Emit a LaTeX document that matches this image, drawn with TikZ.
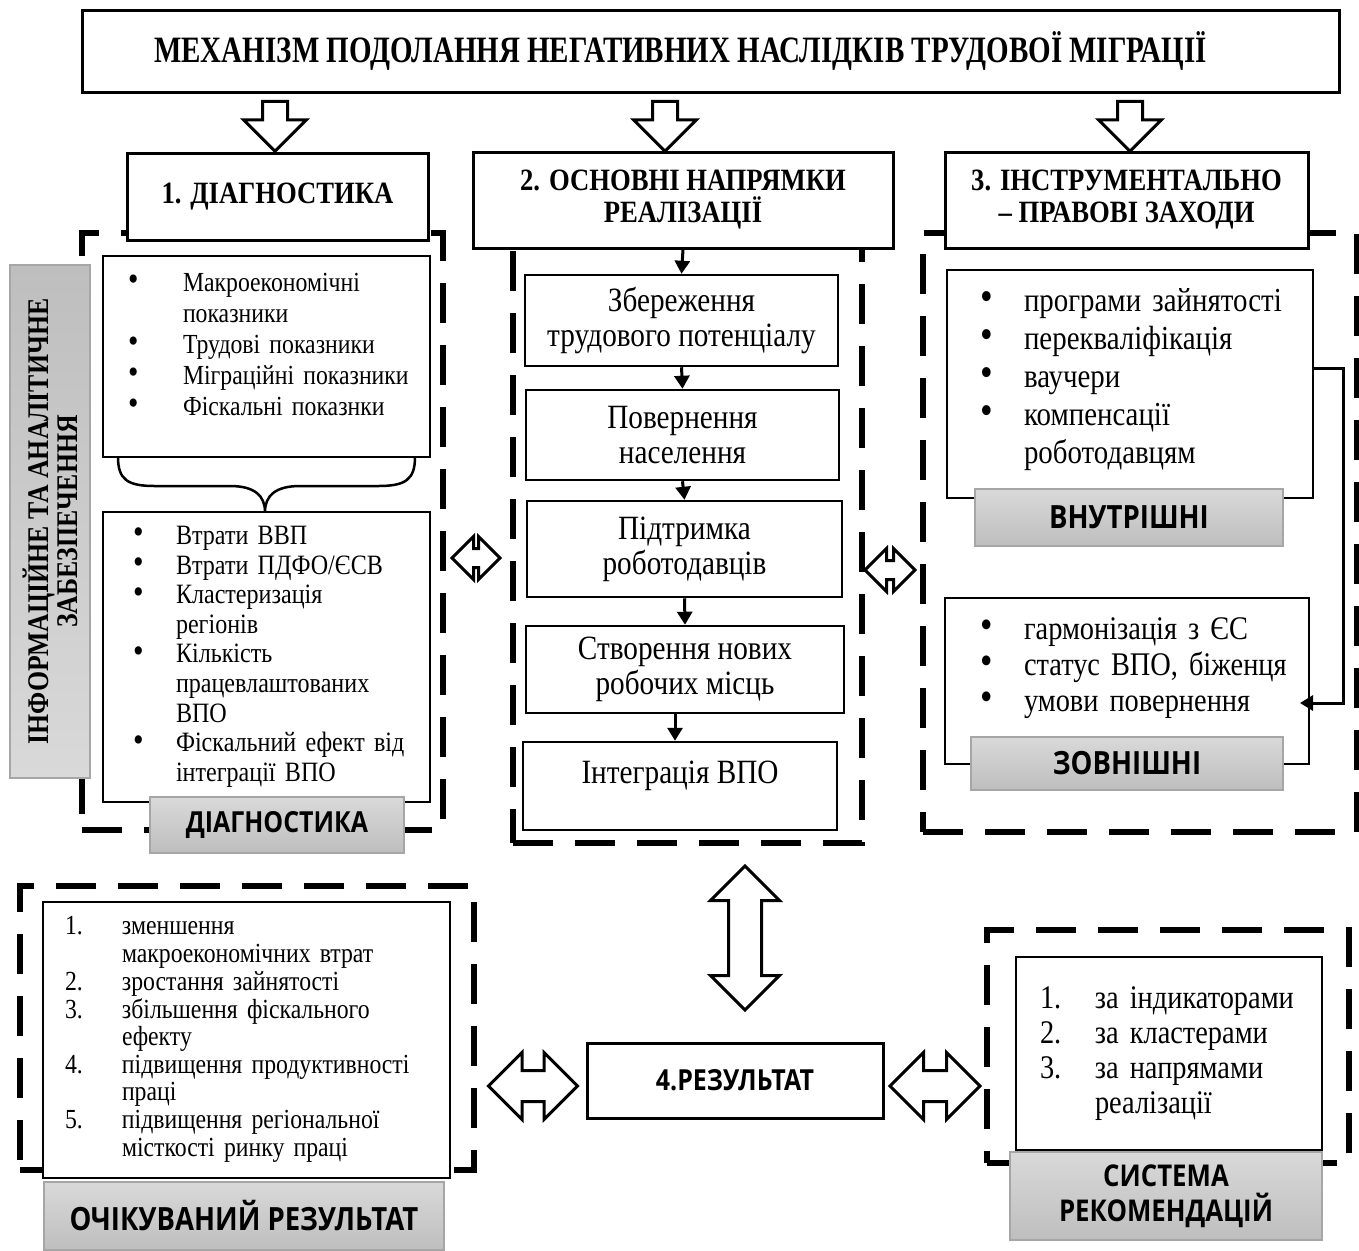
\documentclass[tikz,border=0pt]{standalone}
\usepackage{fontspec}
\setmainfont{Liberation Serif}[FakeStretch=0.86]
\newfontfamily\titlefont{Liberation Serif}[FakeStretch=0.78]
\newfontfamily\labelfont{Open Sans}[FakeStretch=0.86]
\usetikzlibrary{arrows.meta,shapes.arrows}

\newlength{\du}
\setlength{\du}{0.5pt}
\newcommand{\itembullet}{\raisebox{0.3pt}{\scalebox{1.25}{\textbullet}}}

\definecolor{labeltop}{RGB}{217,217,217}
\definecolor{labelbottom}{RGB}{190,190,190}
\definecolor{labelline}{RGB}{166,166,166}

\tikzset{
  headbox/.style={draw, line width=3\du, fill=white, align=center, inner sep=0pt,
    font=\bfseries\fontsize{15.5}{16}\selectfont},
  listbox/.style={draw, line width=2.5\du, fill=white, inner sep=0pt, align=left},
  stagebox/.style={draw, line width=2.5\du, fill=white, align=center, inner sep=0pt,
    font=\fontsize{17}{17.5}\selectfont},
  greylabel/.style={draw=labelline, line width=1.5\du, top color=labeltop,
    bottom color=labelbottom, align=center, inner sep=0pt,
    font=\labelfont\bfseries\fontsize{14.5}{17.5}\selectfont},
  dashframe/.style={draw, line width=6\du, dash pattern=on 40\du off 22\du,
    inner sep=0pt},
  flow/.style={line width=3\du, -{Triangle[length=6.5pt,width=7.5pt]}},
  downarrow/.style={single arrow, draw, fill=white, line width=3\du,
    shape border rotate=270, inner sep=11\du, single arrow head extend=19\du,
    minimum height=50\du},
  twoway/.style={double arrow, draw, fill=white, line width=3\du}
}

\begin{document}
\begin{tikzpicture}
\pgftransformxscale{1.000000}
\pgftransformyscale{-1.000000}
\useasboundingbox (0,0) rectangle (1359\du,1250\du);

% dashed frames
\node[dashframe, minimum width=361\du, minimum height=597\du] (diagframe) at (262.5\du,531.5\du) {};
\node[dashframe, minimum width=349\du, minimum height=598\du] (stageframe) at (687.5\du,544\du) {};
\node[dashframe, minimum width=434\du, minimum height=599\du] (toolframe) at (1140\du,532.5\du) {};
\node[dashframe, minimum width=454\du, minimum height=284\du] (resultframe) at (247\du,1028\du) {};
\node[dashframe, minimum width=362\du, minimum height=233\du] (recframe) at (1168\du,1046.5\du) {};

% top
\node[headbox, minimum width=1257\du, minimum height=82\du,
  font=\titlefont\bfseries\fontsize{18.6}{20}\selectfont] (title) at (710.5\du,51\du)
  {МЕХАНІЗМ ПОДОЛАННЯ НЕГАТИВНИХ НАСЛІДКІВ ТРУДОВОЇ МІГРАЦІЇ\hspace*{60\du}};
\node[downarrow] (downA) at (275\du,120\du) {};
\node[downarrow] (downB) at (665\du,120\du) {};
\node[downarrow] (downC) at (1130\du,120\du) {};

\node[headbox, minimum width=301\du, minimum height=87\du] (col1) at (277.5\du,196.5\du) {1. ДІАГНОСТИКА};
\node[headbox, minimum width=420\du, minimum height=96\du] (col2) at (683\du,200\du) {2. ОСНОВНІ НАПРЯМКИ\\РЕАЛІЗАЦІЇ};
\node[headbox, minimum width=363\du, minimum height=96\du] (col3) at (1126.5\du,200\du) {3. ІНСТРУМЕНТАЛЬНО\\– ПРАВОВІ ЗАХОДИ};

% 1. diagnostics
\node[greylabel, rotate=90, minimum width=513\du, minimum height=80\du,
  top color=labelbottom, bottom color=labeltop,
  font=\bfseries\fontsize{15}{14.5}\selectfont] (infolabel) at (50\du,521.5\du)
  {ІНФОРМАЦІЙНЕ ТА АНАЛІТИЧНЕ\\ЗАБЕЗПЕЧЕННЯ};

\node[listbox, minimum width=327\du, minimum height=201\du, text width=277\du,
  font=\fontsize{13.8}{15.5}\selectfont] (diagin) at (266.5\du,356.5\du) {%
  \begin{tabular}{@{}p{55\du}@{}l@{}}
  \itembullet & Макроекономічні\\
   & показники\\
  \itembullet & Трудові показники\\
  \itembullet & Міграційні показники\\
  \itembullet & Фіскальні показнки\\[19\du]
  \end{tabular}};
\node[listbox, minimum width=327\du, minimum height=290\du, text width=267\du,
  font=\fontsize{14}{14.8}\selectfont] (diagout) at (266.5\du,657\du) {%
  \begin{tabular}{@{}p{43\du}@{}l@{}}
  \itembullet & Втрати ВВП\\
  \itembullet & Втрати ПДФО/ЄСВ\\
  \itembullet & Кластеризація\\
   & регіонів\\
  \itembullet & Кількість\\
   & працевлаштованих\\
   & ВПО\\
  \itembullet & \makebox[231\du][s]{Фіскальний ефект від}\\
   & інтеграції ВПО
  \end{tabular}};
\coordinate (braceL) at (118\du,457\du);
\coordinate (braceM) at (265\du,512\du);
\coordinate (braceR) at (415\du,457\du);
\draw[line width=2.5\du] (braceL) .. controls (118\du,480\du) and (128\du,486\du) .. (155\du,486\du)
  -- (230\du,486\du) .. controls (255\du,486\du) and (265\du,496\du) .. (braceM)
  .. controls (265\du,496\du) and (275\du,486\du) .. (300\du,486\du)
  -- (378\du,486\du) .. controls (405\du,486\du) and (415\du,480\du) .. (braceR);
\node[greylabel, minimum width=254\du, minimum height=56\du] (diaglabel) at (277\du,825\du) {ДІАГНОСТИКА};

% 2. directions
\node[stagebox, minimum width=313\du, minimum height=91\du] (stage1) at (681.5\du,320.5\du) {Збереження\\трудового потенціалу};
\node[stagebox, minimum width=313\du, minimum height=90\du] (stage2) at (682.5\du,435\du) {Повернення\\населення};
\node[stagebox, minimum width=315\du, minimum height=96\du] (stage3) at (684.5\du,549\du) {Підтримка\\роботодавців};
\node[stagebox, minimum width=318\du, minimum height=87\du] (stage4) at (685\du,669.5\du) {Створення нових\\робочих місць};
\node[stagebox, minimum width=314\du, minimum height=88\du] (stage5) at (680\du,786\du)
  {\raisebox{10\du}[\height][\depth]{Інтеграція ВПО}};
\draw[flow] (col2.south) -- (stage1.north);
\draw[flow] (stage1.south) -- (stage2.north);
\draw[flow] (stage2.south) -- (stage3.north);
\draw[flow] (stage3.south) -- (stage4.north);
\draw[flow] ([xshift=-10\du]stage4.south) -- ([xshift=-10\du]stage4.south |- stage5.north);

\node[twoway, inner sep=8\du, double arrow head extend=12\du, minimum height=48\du] (linkL) at (476\du,558\du) {};
\node[twoway, inner sep=8\du, double arrow head extend=12\du, minimum height=50\du] (linkR) at (890\du,570\du) {};

% 3. instruments
\node[listbox, minimum width=366\du, minimum height=228\du, text width=300\du,
  font=\fontsize{16.8}{19}\selectfont] (toolin) at (1130\du,384\du) {%
  \begin{tabular}{@{}p{44\du}@{}l@{}}
  \itembullet & програми зайнятості\\
  \itembullet & перекваліфікація\\
  \itembullet & ваучери\\
  \itembullet & компенсації\\
   & роботодавцям\\[9\du]
  \end{tabular}};
\node[greylabel, minimum width=308\du, minimum height=57\du,
  font=\labelfont\bfseries\fontsize{16}{17.5}\selectfont] (inlabel) at (1129\du,517.5\du) {ВНУТРІШНІ};
\node[listbox, minimum width=364\du, minimum height=166\du, text width=294\du,
  font=\fontsize{16.5}{18}\selectfont] (toolout) at (1127\du,681\du) {%
  \begin{tabular}{@{}p{44\du}@{}l@{}}
  \itembullet & гармонізація з ЄС\\
  \itembullet & статус ВПО, біженця\\
  \itembullet & умови повернення\\[26\du]
  \end{tabular}};
\node[greylabel, minimum width=312\du, minimum height=53\du,
  font=\labelfont\bfseries\fontsize{16}{17.5}\selectfont] (outlabel) at (1127\du,763.5\du) {ЗОВНІШНІ};
\coordinate (elbowin) at (1313\du,368\du);
\coordinate (elbowout) at (1300\du,703\du);
\draw[flow] (elbowin) -- ++(30\du,0) |- (elbowout);

% 4. result
\node[twoway, shape border rotate=90, inner sep=15\du, double arrow head extend=18\du,
  minimum height=144\du] (linkV) at (745\du,938\du) {};
\node[headbox, minimum width=296\du, minimum height=75\du,
  font=\labelfont\bfseries\fontsize{14.5}{14}\selectfont] (result) at (735\du,1080.5\du) {4.РЕЗУЛЬТАТ};
\node[twoway, inner sep=14\du, double arrow head extend=18\du, minimum height=89\du] (linkRL) at (533\du,1086\du) {};
\node[twoway, inner sep=14\du, double arrow head extend=18\du, minimum height=90\du] (linkRR) at (935\du,1086\du) {};

\node[listbox, minimum width=407\du, minimum height=276\du, text width=363\du,
  font=\fontsize{13.8}{13.8}\selectfont] (reslist) at (246.5\du,1040\du) {%
  \begin{tabular}{@{}p{57\du}@{}l@{}}
  1. & зменшення\\
   & макроекономічних втрат\\
  2. & зростання зайнятості\\
  3. & збільшення фіскального\\
   & ефекту\\
  4. & підвищення продуктивності\\
   & праці\\
  5. & підвищення регіональної\\
   & місткості ринку праці
  \end{tabular}};
\node[greylabel, minimum width=400\du, minimum height=68\du,
  font=\labelfont\bfseries\fontsize{16}{17.5}\selectfont] (reslabel) at (244\du,1216\du) {ОЧІКУВАНИЙ РЕЗУЛЬТАТ};

\node[listbox, minimum width=306\du, minimum height=193\du, text width=258\du,
  font=\fontsize{16.5}{17.5}\selectfont] (reclist) at (1169\du,1053.5\du) {%
  \begin{tabular}{@{}p{55\du}@{}l@{}}
  1. & за індикаторами\\
  2. & за кластерами\\
  3. & за напрямами\\
   & реалізації
  \end{tabular}};
\node[greylabel, minimum width=312\du, minimum height=88\du,
  font=\labelfont\bfseries\fontsize{15}{17.5}\selectfont] (reclabel) at (1166\du,1196\du) {СИСТЕМА\\РЕКОМЕНДАЦІЙ};
\end{tikzpicture}
\end{document}
